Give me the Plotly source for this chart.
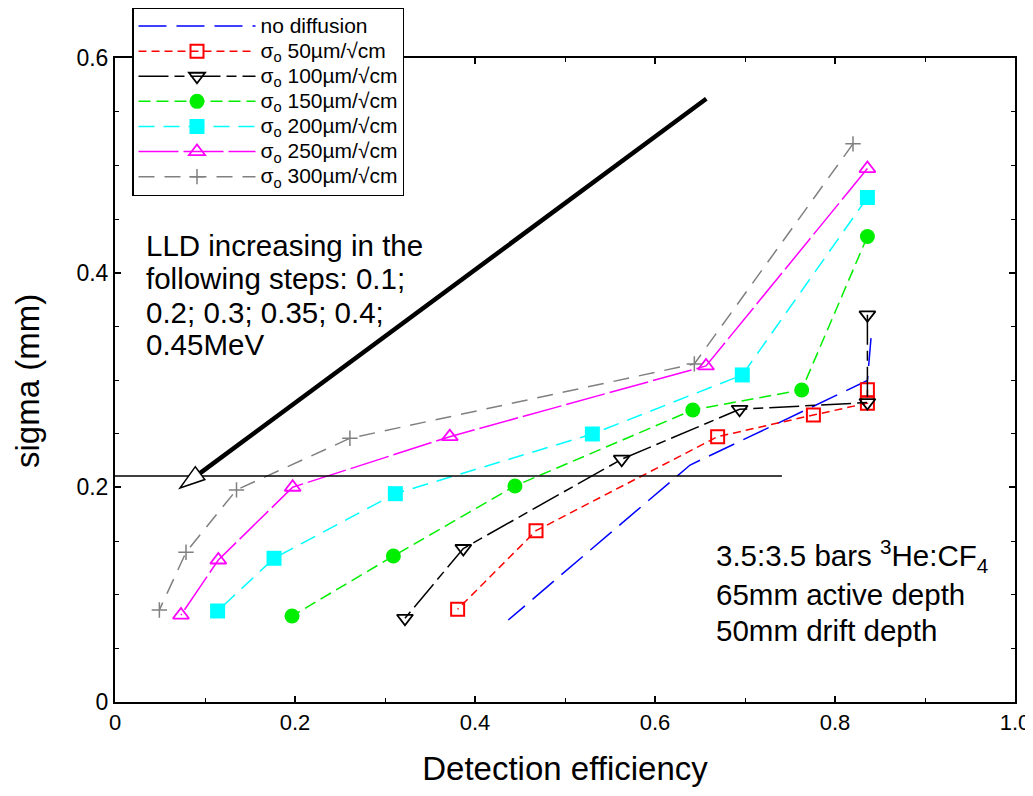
import plotly.graph_objects as go

# ---------------- data (LLD increasing: 0.1, 0.2, 0.3, 0.35, 0.4, 0.45 MeV) ----------------
nodiff_x = [0.840, 0.836, 0.639, 0.437]
nodiff_y = [0.339, 0.2995, 0.2208, 0.0764]

s50_x = [0.836, 0.836, 0.776, 0.6696, 0.4678, 0.3807]
s50_y = [0.2908, 0.2784, 0.2674, 0.2472, 0.1596, 0.0864]

s100_x = [0.836, 0.836, 0.694, 0.563, 0.387, 0.3222]
s100_y = [0.3607, 0.279, 0.2727, 0.2262, 0.143, 0.078]

s150_x = [0.836, 0.763, 0.642, 0.4444, 0.3093, 0.1967]
s150_y = [0.4337, 0.2907, 0.2721, 0.2013, 0.136, 0.0801]

s200_x = [0.836, 0.697, 0.5304, 0.3115, 0.1767, 0.114]
s200_y = [0.470, 0.3047, 0.2497, 0.1941, 0.1339, 0.0848]

s250_x = [0.836, 0.6567, 0.372, 0.1974, 0.1148, 0.0733]
s250_y = [0.497, 0.3131, 0.2472, 0.2001, 0.1323, 0.081]

s300_x = [0.820, 0.6437, 0.261, 0.135, 0.0789, 0.0493]
s300_y = [0.520, 0.315, 0.2457, 0.1976, 0.1395, 0.0857]

series_names = ["no diffusion",
                "σ<sub>o</sub> 50µm/√cm",
                "σ<sub>o</sub> 100µm/√cm",
                "σ<sub>o</sub> 150µm/√cm",
                "σ<sub>o</sub> 200µm/√cm",
                "σ<sub>o</sub> 250µm/√cm",
                "σ<sub>o</sub> 300µm/√cm"]

x_tickvals = [0, 0.2, 0.4, 0.6, 0.8, 1.0]
x_ticktext = ["0", "0.2", "0.4", "0.6", "0.8", "1.0"]
y_tickvals = [0, 0.2, 0.4, 0.6]
y_ticktext = ["0", "0.2", "0.4", "0.6"]

lld_line_y = 0.2106
lld_line_xend = 0.741
arrow_tail = (0.657, 0.562)
arrow_tip = (0.0722, 0.1994)

lld_text = ["LLD increasing in the", "following steps: 0.1;",
            "0.2; 0.3; 0.35; 0.4;", "0.45MeV"]
info_text = ["3.5:3.5 bars <sup>3</sup>He:CF<sub>4</sub>",
             "65mm active depth", "50mm drift depth"]
x_title = "Detection efficiency"
y_title = "sigma (mm)"

FONT = "Liberation Sans, Arial, sans-serif"


def leg(name):
    return f'<span style="font-size:21px">{name}</span>'


# ---------------- figure ----------------
fig = go.Figure()

fig.add_trace(go.Scatter(x=nodiff_x, y=nodiff_y, mode="lines", name=leg(series_names[0]),
                         line=dict(color="#0000ff", width=1.5, dash="28px,10px")))
fig.add_trace(go.Scatter(x=s50_x, y=s50_y, mode="lines+markers", name=leg(series_names[1]),
                         line=dict(color="#ff0000", width=1.5, dash="8px,5px"),
                         marker=dict(symbol="square-open", size=13, color="#ff0000",
                                     line=dict(width=2, color="#ff0000"))))
fig.add_trace(go.Scatter(x=s100_x, y=s100_y, mode="lines+markers", name=leg(series_names[2]),
                         line=dict(color="#000000", width=1.5, dash="30px,6px,10px,6px"),
                         marker=dict(symbol="triangle-down-open", size=14, color="#000000",
                                     line=dict(width=1.8, color="#000000"))))
fig.add_trace(go.Scatter(x=s150_x, y=s150_y, mode="lines+markers", name=leg(series_names[3]),
                         line=dict(color="#00ee00", width=1.5, dash="12px,6px"),
                         marker=dict(symbol="circle", size=15, color="#00ee00")))
fig.add_trace(go.Scatter(x=s200_x, y=s200_y, mode="lines+markers", name=leg(series_names[4]),
                         line=dict(color="#00ffff", width=1.5, dash="16px,9px"),
                         marker=dict(symbol="square", size=15, color="#00ffff")))
fig.add_trace(go.Scatter(x=s250_x, y=s250_y, mode="lines+markers", name=leg(series_names[5]),
                         line=dict(color="#ff00ff", width=1.5, dash="40px,5px"),
                         marker=dict(symbol="triangle-up-open", size=14, color="#ff00ff",
                                     line=dict(width=1.8, color="#ff00ff"))))
fig.add_trace(go.Scatter(x=s300_x, y=s300_y, mode="lines+markers", name=leg(series_names[6]),
                         line=dict(color="#808080", width=1.5, dash="16px,10px"),
                         marker=dict(symbol="cross-thin-open", size=11, color="#808080",
                                     line=dict(width=1.5, color="#808080"))))

# page body has an 8px margin: compensate so the plot area lands at 115..1015 x 58..702
OFF = 8
W, H = 1033 - OFF, 796 - OFF
ML, MT = 115 - OFF, 58 - OFF
PW, PH = 900, 644
MR = W - ML - PW
MB = H - MT - PH
XR, YR = [0, 1.0], [0, 0.6]
sx = PW / (XR[1] - XR[0])
sy = PH / (YR[1] - YR[0])


def px_to_paper_y(py):
    return (58 + PH - py) / PH


def px_to_paper_x(px):
    return (px - 115) / PW


# arrow head geometry (pixel space -> data)
dx = (arrow_tip[0] - arrow_tail[0]) * sx
dy = (arrow_tip[1] - arrow_tail[1]) * sy
L = (dx * dx + dy * dy) ** 0.5
ux, uy = dx / L, dy / L
head_len, head_half = 25.0, 8.0
base = (arrow_tip[0] - head_len * ux / sx, arrow_tip[1] - head_len * uy / sy)
pxv, pyv = -uy, ux
b1 = (base[0] + head_half * pxv / sx, base[1] + head_half * pyv / sy)
b2 = (base[0] - head_half * pxv / sx, base[1] - head_half * pyv / sy)

shapes = [
    dict(type="line", xref="x", yref="y", x0=0, x1=lld_line_xend, y0=lld_line_y, y1=lld_line_y,
         line=dict(color="black", width=1.5), layer="above"),
    dict(type="line", xref="x", yref="y", x0=arrow_tail[0], y0=arrow_tail[1], x1=base[0], y1=base[1],
         line=dict(color="black", width=4.5), layer="above"),
    dict(type="path", xref="x", yref="y",
         path=f"M {arrow_tip[0]},{arrow_tip[1]} L {b1[0]},{b1[1]} L {b2[0]},{b2[1]} Z",
         fillcolor="white", line=dict(color="black", width=1.5), layer="above"),
]

annotations = []
lld_ys = [245, 278, 312, 344]
for t, py in zip(lld_text, lld_ys):
    annotations.append(dict(text=t, xref="paper", yref="paper", x=px_to_paper_x(144),
                            y=px_to_paper_y(py), xanchor="left", yanchor="middle",
                            showarrow=False, font=dict(family=FONT, size=29.5, color="black")))
info_ys = [556, 594, 630]
for t, py in zip(info_text, info_ys):
    annotations.append(dict(text=t, xref="paper", yref="paper", x=px_to_paper_x(714),
                            y=px_to_paper_y(py), xanchor="left", yanchor="middle",
                            showarrow=False, font=dict(family=FONT, size=29.5, color="black")))
# y-axis title placed as rotated annotation
annotations.append(dict(text=y_title, xref="paper", yref="paper", x=px_to_paper_x(27),
                        y=px_to_paper_y(381), xanchor="center", yanchor="middle", textangle=-90,
                        showarrow=False, font=dict(family=FONT, size=33, color="black")))

fig.update_layout(
    width=W, height=H,
    margin=dict(l=ML, r=MR, t=MT, b=MB, autoexpand=False),
    paper_bgcolor="white", plot_bgcolor="white",
    font=dict(family=FONT, color="black"),
    shapes=shapes, annotations=annotations,
    legend=dict(x=px_to_paper_x(132), y=px_to_paper_y(7), xanchor="left", yanchor="top",
                bgcolor="white", bordercolor="black", borderwidth=1.5,
                font=dict(family=FONT, size=17, color="black"),
                itemwidth=117, tracegroupgap=0),
    xaxis=dict(range=XR, tickvals=x_tickvals, ticktext=x_ticktext,
               ticks="inside", ticklen=6, tickwidth=1.5, tickcolor="black",
               minor=dict(dtick=0.1, ticks="inside", ticklen=4, tickwidth=1.2, tickcolor="black"),
               showline=True, linewidth=2, linecolor="black", mirror="ticks",
               showgrid=False, zeroline=False, ticklabelstandoff=0,
               tickfont=dict(family=FONT, size=22, color="black"),
               title=dict(text=x_title, standoff=22,
                          font=dict(family=FONT, size=33, color="black"))),
    yaxis=dict(range=YR, tickvals=y_tickvals, ticktext=y_ticktext,
               ticks="inside", ticklen=6, tickwidth=1.5, tickcolor="black",
               minor=dict(dtick=0.05, ticks="inside", ticklen=4, tickwidth=1.2, tickcolor="black"),
               showline=True, linewidth=2, linecolor="black", mirror="ticks",
               showgrid=False, zeroline=False, ticklabelstandoff=0,
               tickfont=dict(family=FONT, size=23, color="black")),
)

fig.write_html("out.html")
